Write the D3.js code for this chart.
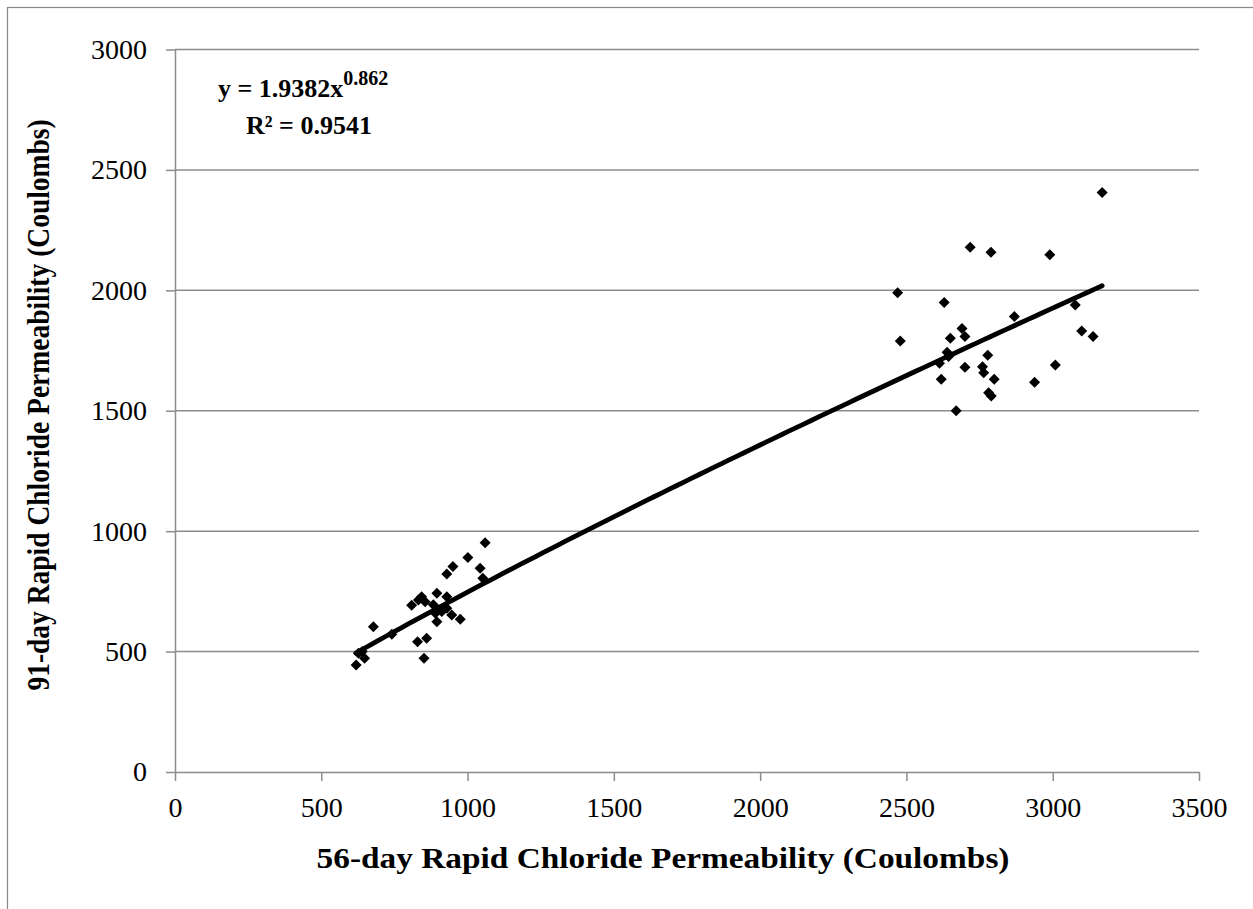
<!DOCTYPE html>
<html><head><meta charset="utf-8">
<script src="https://cdn.jsdelivr.net/npm/d3@7"></script>
<style>body{margin:0;background:#fff}svg{display:block}</style>
</head><body>
<svg id="chart" width="1253" height="909"></svg>
<script>
const lowX  = [619,627,640,648,678,741,809,829,832,843,851,855,860,883,890,895,895,906,912,929,929,929,946,950,975,1001,1043,1052,1060];
const lowY  = [444,493,500,472,603,572,692,541,714,728,472,707,555,694,659,624,742,673,666,728,680,822,652,853,634,891,846,804,952];
const highX = [2470,2479,2613,2619,2629,2639,2644,2650,2670,2690,2700,2700,2718,2760,2764,2778,2781,2789,2790,2800,2869,2938,2990,3009,3077,3099,3138,3169];
const highY = [1990,1790,1697,1631,1949,1743,1725,1801,1500,1842,1808,1681,2179,1683,1658,1730,1575,2158,1561,1631,1891,1618,2148,1690,1939,1831,1808,2406];
const xTicks = [0,500,1000,1500,2000,2500,3000,3500];
const yTicks = [0,500,1000,1500,2000,2500,3000];
const fitA = 1.9382, fitB = 0.862;
const eqMain = "y = 1.9382x", eqExp = "0.862", r2Text = "R² = 0.9541";
const xTitle = "56-day Rapid Chloride Permeability (Coulombs)";
const yTitle = "91-day Rapid Chloride Permeability (Coulombs)";

const pts = lowX.map((x,i)=>({x, y: lowY[i]})).concat(highX.map((x,i)=>({x, y: highY[i]})));

const svg = d3.select("#chart");
const L = 175, R = 1199, T = 49.5, B = 772;
const x = d3.scaleLinear().domain([0,3500]).range([L,R]);
const y = d3.scaleLinear().domain([0,3000]).range([B,T]);
const font = "'Liberation Serif','Times New Roman',serif";

svg.append("rect").attr("x",7.5).attr("y",7.5).attr("width",1270).attr("height",920)
  .attr("fill","none").attr("stroke","#888").attr("stroke-width",1.2);

// gridlines
svg.append("g").selectAll("line").data(yTicks.filter(d=>d>0)).join("line")
  .attr("x1",L).attr("x2",R).attr("y1",d=>y(d)).attr("y2",d=>y(d))
  .attr("stroke","#8c8c8c").attr("stroke-width",1.5);

// axes
const xAxis = svg.append("g").attr("transform",`translate(0,${B})`)
  .call(d3.axisBottom(x).tickValues(xTicks).tickFormat(d3.format("d")).tickSize(9).tickSizeOuter(0).tickPadding(16));
const yAxis = svg.append("g").attr("transform",`translate(${L},0)`)
  .call(d3.axisLeft(y).tickValues(yTicks).tickFormat(d3.format("d")).tickSize(9).tickSizeOuter(0).tickPadding(19));
[xAxis,yAxis].forEach(a=>{
  a.attr("font-family",font).attr("font-size",28);
  a.select(".domain").attr("stroke","#8c8c8c").attr("stroke-width",1.5);
  a.selectAll(".tick line").attr("stroke","#8c8c8c").attr("stroke-width",1.5);
  a.selectAll(".tick text").attr("font-family",font).attr("font-size",28).attr("fill","#000");
});

// trendline
const xmin = d3.min(pts,d=>d.x), xmax = d3.max(pts,d=>d.x);
const fit = d3.range(0,101).map(i=>{const xv = xmin + (xmax-xmin)*i/100; return [xv, fitA*Math.pow(xv,fitB)];});
svg.append("path").datum(fit)
  .attr("d", d3.line().x(d=>x(d[0])).y(d=>y(d[1])))
  .attr("fill","none").attr("stroke","#000").attr("stroke-width",4.8).attr("stroke-linecap","round");

// points
svg.append("g").selectAll("path").data(pts).join("path")
  .attr("transform",d=>`translate(${x(d.x)},${y(d.y)})`)
  .attr("d","M0,-5.5L5.5,0L0,5.5L-5.5,0Z").attr("fill","#000");

// equation
const eq = svg.append("text").attr("x",218).attr("y",97).attr("font-family",font)
  .attr("font-weight","bold").attr("font-size",26).attr("fill","#000");
eq.append("tspan").text(eqMain);
eq.append("tspan").attr("dy",-12).attr("font-size",20).text(eqExp);
svg.append("text").attr("x",246).attr("y",134).attr("font-family",font)
  .attr("font-weight","bold").attr("font-size",26).attr("fill","#000").text(r2Text);

// titles
svg.append("text").attr("transform","translate(663,868) scale(1.15,1)").attr("text-anchor","middle")
  .attr("font-family",font).attr("font-weight","bold").attr("font-size",29).text(xTitle);
svg.append("text").attr("transform",`translate(49,405) scale(1.15,1) rotate(-90)`).attr("text-anchor","middle")
  .attr("font-family",font).attr("font-weight","bold").attr("font-size",27.5).text(yTitle);
</script>
</body></html>
